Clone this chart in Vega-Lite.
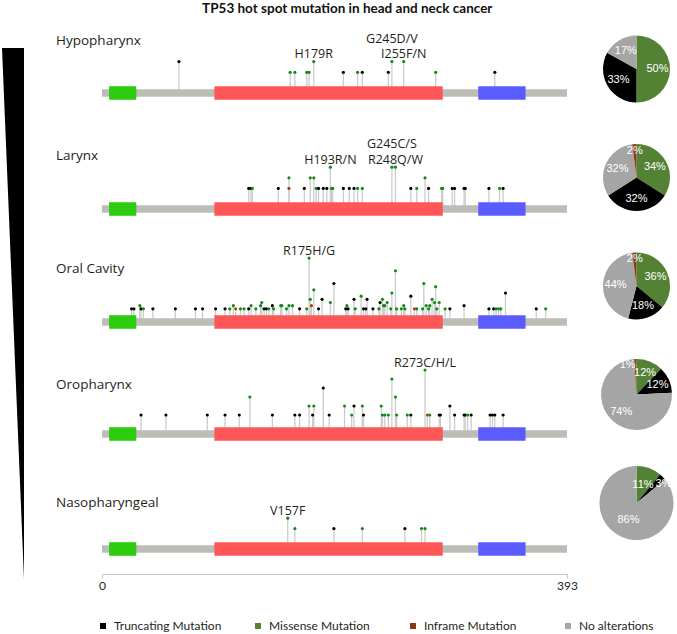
{
  "$schema": "https://vega.github.io/schema/vega-lite/v6.json",
  "padding": {"left": 2, "top": 1, "right": 1, "bottom": 4},
  "title": {"text": "TP53 hot spot mutation in head and neck cancer", "fontSize": 13.5, "font": "Lato", "fontWeight": "bold", "anchor": "middle", "dx": 9, "offset": 6, "color": "#111111"},
  "config": {"view": {"stroke": null}, "font": "Open Sans"},
  "datasets": {
    "prot": [{"name": "TP53", "start": 0, "end": 393}],
    "dom": [{"name": "TAD", "start": 6, "end": 29}, {"name": "DBD", "start": 95, "end": 288}, {"name": "TET", "start": 318, "end": 358}],
    "pie": [
      {"site": "Hypopharynx", "cat": "Missense Mutation", "share": 0.50, "k": 1},
      {"site": "Hypopharynx", "cat": "Truncating Mutation", "share": 0.33, "k": 2},
      {"site": "Hypopharynx", "cat": "No alterations", "share": 0.17, "k": 3},
      {"site": "Larynx", "cat": "Missense Mutation", "share": 0.34, "k": 1},
      {"site": "Larynx", "cat": "Truncating Mutation", "share": 0.32, "k": 2},
      {"site": "Larynx", "cat": "No alterations", "share": 0.32, "k": 3},
      {"site": "Larynx", "cat": "Inframe Mutation", "share": 0.02, "k": 4},
      {"site": "Oral Cavity", "cat": "Missense Mutation", "share": 0.36, "k": 1},
      {"site": "Oral Cavity", "cat": "Truncating Mutation", "share": 0.18, "k": 2},
      {"site": "Oral Cavity", "cat": "No alterations", "share": 0.44, "k": 3},
      {"site": "Oral Cavity", "cat": "Inframe Mutation", "share": 0.02, "k": 4},
      {"site": "Oropharynx", "cat": "Missense Mutation", "share": 0.12, "k": 1},
      {"site": "Oropharynx", "cat": "Truncating Mutation", "share": 0.12, "k": 2},
      {"site": "Oropharynx", "cat": "No alterations", "share": 0.74, "k": 3},
      {"site": "Oropharynx", "cat": "Inframe Mutation", "share": 0.01, "k": 4},
      {"site": "Nasopharyngeal", "cat": "Missense Mutation", "share": 0.11, "k": 1},
      {"site": "Nasopharyngeal", "cat": "Truncating Mutation", "share": 0.03, "k": 2},
      {"site": "Nasopharyngeal", "cat": "No alterations", "share": 0.86, "k": 3}
    ],
    "mut": [
      {"site": "Hypopharynx", "pos": 65, "n": 2, "type": "Truncating"},
      {"site": "Hypopharynx", "pos": 159, "n": 1, "type": "Missense"},
      {"site": "Hypopharynx", "pos": 163, "n": 1, "type": "Missense"},
      {"site": "Hypopharynx", "pos": 173, "n": 1, "type": "Missense"},
      {"site": "Hypopharynx", "pos": 175, "n": 1, "type": "Missense"},
      {"site": "Hypopharynx", "pos": 179, "n": 2, "type": "Missense", "hot": "H179R"},
      {"site": "Hypopharynx", "pos": 204, "n": 1, "type": "Truncating"},
      {"site": "Hypopharynx", "pos": 216, "n": 1, "type": "Missense"},
      {"site": "Hypopharynx", "pos": 220, "n": 1, "type": "Truncating"},
      {"site": "Hypopharynx", "pos": 242, "n": 1, "type": "Truncating"},
      {"site": "Hypopharynx", "pos": 245, "n": 2, "type": "Missense", "hotTop": "G245D/V"},
      {"site": "Hypopharynx", "pos": 255, "n": 2, "type": "Missense", "hot": "I255F/N"},
      {"site": "Hypopharynx", "pos": 282, "n": 1, "type": "Missense"},
      {"site": "Hypopharynx", "pos": 332, "n": 1, "type": "Truncating"},

      {"site": "Larynx", "pos": 124, "n": 1, "type": "Truncating"},
      {"site": "Larynx", "pos": 126, "n": 1, "type": "Truncating"},
      {"site": "Larynx", "pos": 127, "n": 1, "type": "Missense"},
      {"site": "Larynx", "pos": 149, "n": 1, "type": "Truncating"},
      {"site": "Larynx", "pos": 158, "n": 2, "type": "Missense"},
      {"site": "Larynx", "pos": 158, "n": 1, "type": "Inframe"},
      {"site": "Larynx", "pos": 171, "n": 1, "type": "Truncating"},
      {"site": "Larynx", "pos": 176, "n": 2, "type": "Missense"},
      {"site": "Larynx", "pos": 179, "n": 2, "type": "Missense"},
      {"site": "Larynx", "pos": 181, "n": 1, "type": "Missense"},
      {"site": "Larynx", "pos": 183, "n": 1, "type": "Truncating"},
      {"site": "Larynx", "pos": 187, "n": 1, "type": "Truncating"},
      {"site": "Larynx", "pos": 190, "n": 1, "type": "Truncating"},
      {"site": "Larynx", "pos": 193, "n": 3, "type": "Missense", "hot": "H193R/N"},
      {"site": "Larynx", "pos": 194, "n": 1, "type": "Missense"},
      {"site": "Larynx", "pos": 195, "n": 1, "type": "Missense"},
      {"site": "Larynx", "pos": 204, "n": 1, "type": "Truncating"},
      {"site": "Larynx", "pos": 209, "n": 1, "type": "Truncating"},
      {"site": "Larynx", "pos": 213, "n": 1, "type": "Truncating"},
      {"site": "Larynx", "pos": 216, "n": 1, "type": "Missense"},
      {"site": "Larynx", "pos": 220, "n": 1, "type": "Missense"},
      {"site": "Larynx", "pos": 245, "n": 3, "type": "Missense", "hotTop": "G245C/S"},
      {"site": "Larynx", "pos": 248, "n": 3, "type": "Missense", "hot": "R248Q/W"},
      {"site": "Larynx", "pos": 261, "n": 1, "type": "Truncating"},
      {"site": "Larynx", "pos": 266, "n": 1, "type": "Missense"},
      {"site": "Larynx", "pos": 273, "n": 2, "type": "Missense"},
      {"site": "Larynx", "pos": 276, "n": 1, "type": "Truncating"},
      {"site": "Larynx", "pos": 287, "n": 1, "type": "Missense"},
      {"site": "Larynx", "pos": 288, "n": 1, "type": "Missense"},
      {"site": "Larynx", "pos": 296, "n": 1, "type": "Truncating"},
      {"site": "Larynx", "pos": 298, "n": 1, "type": "Truncating"},
      {"site": "Larynx", "pos": 306, "n": 1, "type": "Truncating"},
      {"site": "Larynx", "pos": 307, "n": 1, "type": "Truncating"},
      {"site": "Larynx", "pos": 327, "n": 1, "type": "Truncating"},
      {"site": "Larynx", "pos": 336, "n": 1, "type": "Missense"},
      {"site": "Larynx", "pos": 339, "n": 1, "type": "Truncating"},

      {"site": "Oral Cavity", "pos": 25, "n": 1, "type": "Truncating"},
      {"site": "Oral Cavity", "pos": 27, "n": 1, "type": "Truncating"},
      {"site": "Oral Cavity", "pos": 32, "n": 2, "type": "Missense"},
      {"site": "Oral Cavity", "pos": 33, "n": 1, "type": "Truncating"},
      {"site": "Oral Cavity", "pos": 35, "n": 1, "type": "Missense"},
      {"site": "Oral Cavity", "pos": 43, "n": 1, "type": "Truncating"},
      {"site": "Oral Cavity", "pos": 62, "n": 1, "type": "Truncating"},
      {"site": "Oral Cavity", "pos": 79, "n": 1, "type": "Truncating"},
      {"site": "Oral Cavity", "pos": 85, "n": 1, "type": "Truncating"},
      {"site": "Oral Cavity", "pos": 96, "n": 1, "type": "Truncating"},
      {"site": "Oral Cavity", "pos": 104, "n": 1, "type": "Truncating"},
      {"site": "Oral Cavity", "pos": 108, "n": 1, "type": "Missense"},
      {"site": "Oral Cavity", "pos": 111, "n": 2, "type": "Missense"},
      {"site": "Oral Cavity", "pos": 113, "n": 1, "type": "Inframe"},
      {"site": "Oral Cavity", "pos": 117, "n": 1, "type": "Missense"},
      {"site": "Oral Cavity", "pos": 120, "n": 1, "type": "Missense"},
      {"site": "Oral Cavity", "pos": 124, "n": 1, "type": "Truncating"},
      {"site": "Oral Cavity", "pos": 126, "n": 2, "type": "Missense"},
      {"site": "Oral Cavity", "pos": 130, "n": 1, "type": "Missense"},
      {"site": "Oral Cavity", "pos": 134, "n": 2, "type": "Missense"},
      {"site": "Oral Cavity", "pos": 135, "n": 3, "type": "Missense"},
      {"site": "Oral Cavity", "pos": 137, "n": 1, "type": "Truncating"},
      {"site": "Oral Cavity", "pos": 139, "n": 1, "type": "Truncating"},
      {"site": "Oral Cavity", "pos": 141, "n": 1, "type": "Missense"},
      {"site": "Oral Cavity", "pos": 144, "n": 2, "type": "Truncating"},
      {"site": "Oral Cavity", "pos": 145, "n": 1, "type": "Missense"},
      {"site": "Oral Cavity", "pos": 151, "n": 2, "type": "Missense"},
      {"site": "Oral Cavity", "pos": 152, "n": 2, "type": "Missense"},
      {"site": "Oral Cavity", "pos": 156, "n": 1, "type": "Missense"},
      {"site": "Oral Cavity", "pos": 158, "n": 2, "type": "Missense"},
      {"site": "Oral Cavity", "pos": 161, "n": 2, "type": "Missense"},
      {"site": "Oral Cavity", "pos": 167, "n": 1, "type": "Truncating"},
      {"site": "Oral Cavity", "pos": 173, "n": 1, "type": "Missense"},
      {"site": "Oral Cavity", "pos": 175, "n": 17, "type": "Missense", "hot": "R175H/G"},
      {"site": "Oral Cavity", "pos": 176, "n": 4, "type": "Missense"},
      {"site": "Oral Cavity", "pos": 177, "n": 2, "type": "Inframe"},
      {"site": "Oral Cavity", "pos": 179, "n": 7, "type": "Missense"},
      {"site": "Oral Cavity", "pos": 183, "n": 1, "type": "Truncating"},
      {"site": "Oral Cavity", "pos": 186, "n": 4, "type": "Truncating"},
      {"site": "Oral Cavity", "pos": 193, "n": 3, "type": "Missense"},
      {"site": "Oral Cavity", "pos": 196, "n": 9, "type": "Truncating"},
      {"site": "Oral Cavity", "pos": 206, "n": 1, "type": "Truncating"},
      {"site": "Oral Cavity", "pos": 207, "n": 2, "type": "Missense"},
      {"site": "Oral Cavity", "pos": 208, "n": 1, "type": "Truncating"},
      {"site": "Oral Cavity", "pos": 213, "n": 4, "type": "Truncating"},
      {"site": "Oral Cavity", "pos": 214, "n": 1, "type": "Missense"},
      {"site": "Oral Cavity", "pos": 219, "n": 5, "type": "Missense"},
      {"site": "Oral Cavity", "pos": 221, "n": 1, "type": "Truncating"},
      {"site": "Oral Cavity", "pos": 223, "n": 1, "type": "Truncating"},
      {"site": "Oral Cavity", "pos": 224, "n": 4, "type": "Truncating"},
      {"site": "Oral Cavity", "pos": 229, "n": 1, "type": "Truncating"},
      {"site": "Oral Cavity", "pos": 234, "n": 1, "type": "Missense"},
      {"site": "Oral Cavity", "pos": 235, "n": 3, "type": "Truncating"},
      {"site": "Oral Cavity", "pos": 237, "n": 4, "type": "Missense"},
      {"site": "Oral Cavity", "pos": 238, "n": 2, "type": "Missense"},
      {"site": "Oral Cavity", "pos": 239, "n": 2, "type": "Missense"},
      {"site": "Oral Cavity", "pos": 241, "n": 3, "type": "Missense"},
      {"site": "Oral Cavity", "pos": 244, "n": 1, "type": "Missense"},
      {"site": "Oral Cavity", "pos": 245, "n": 6, "type": "Missense"},
      {"site": "Oral Cavity", "pos": 248, "n": 13, "type": "Missense"},
      {"site": "Oral Cavity", "pos": 249, "n": 1, "type": "Missense"},
      {"site": "Oral Cavity", "pos": 253, "n": 1, "type": "Missense"},
      {"site": "Oral Cavity", "pos": 255, "n": 2, "type": "Missense"},
      {"site": "Oral Cavity", "pos": 256, "n": 1, "type": "Missense"},
      {"site": "Oral Cavity", "pos": 261, "n": 5, "type": "Truncating"},
      {"site": "Oral Cavity", "pos": 264, "n": 1, "type": "Inframe"},
      {"site": "Oral Cavity", "pos": 266, "n": 1, "type": "Missense"},
      {"site": "Oral Cavity", "pos": 271, "n": 1, "type": "Missense"},
      {"site": "Oral Cavity", "pos": 272, "n": 9, "type": "Missense"},
      {"site": "Oral Cavity", "pos": 274, "n": 2, "type": "Missense"},
      {"site": "Oral Cavity", "pos": 276, "n": 1, "type": "Missense"},
      {"site": "Oral Cavity", "pos": 277, "n": 2, "type": "Missense"},
      {"site": "Oral Cavity", "pos": 279, "n": 4, "type": "Missense"},
      {"site": "Oral Cavity", "pos": 281, "n": 3, "type": "Missense"},
      {"site": "Oral Cavity", "pos": 282, "n": 8, "type": "Missense"},
      {"site": "Oral Cavity", "pos": 283, "n": 1, "type": "Missense"},
      {"site": "Oral Cavity", "pos": 285, "n": 3, "type": "Missense"},
      {"site": "Oral Cavity", "pos": 290, "n": 1, "type": "Missense"},
      {"site": "Oral Cavity", "pos": 294, "n": 1, "type": "Truncating"},
      {"site": "Oral Cavity", "pos": 306, "n": 2, "type": "Truncating"},
      {"site": "Oral Cavity", "pos": 327, "n": 1, "type": "Truncating"},
      {"site": "Oral Cavity", "pos": 331, "n": 1, "type": "Truncating"},
      {"site": "Oral Cavity", "pos": 333, "n": 1, "type": "Missense"},
      {"site": "Oral Cavity", "pos": 335, "n": 1, "type": "Missense"},
      {"site": "Oral Cavity", "pos": 337, "n": 1, "type": "Missense"},
      {"site": "Oral Cavity", "pos": 341, "n": 6, "type": "Truncating"},
      {"site": "Oral Cavity", "pos": 367, "n": 1, "type": "Truncating"},
      {"site": "Oral Cavity", "pos": 375, "n": 1, "type": "Missense"},

      {"site": "Oropharynx", "pos": 33, "n": 1, "type": "Truncating"},
      {"site": "Oropharynx", "pos": 54, "n": 1, "type": "Truncating"},
      {"site": "Oropharynx", "pos": 89, "n": 1, "type": "Truncating"},
      {"site": "Oropharynx", "pos": 104, "n": 1, "type": "Truncating"},
      {"site": "Oropharynx", "pos": 116, "n": 1, "type": "Truncating"},
      {"site": "Oropharynx", "pos": 125, "n": 3, "type": "Missense"},
      {"site": "Oropharynx", "pos": 144, "n": 1, "type": "Truncating"},
      {"site": "Oropharynx", "pos": 163, "n": 1, "type": "Truncating"},
      {"site": "Oropharynx", "pos": 167, "n": 1, "type": "Truncating"},
      {"site": "Oropharynx", "pos": 175, "n": 2, "type": "Missense"},
      {"site": "Oropharynx", "pos": 178, "n": 1, "type": "Truncating"},
      {"site": "Oropharynx", "pos": 179, "n": 2, "type": "Missense"},
      {"site": "Oropharynx", "pos": 187, "n": 4, "type": "Truncating"},
      {"site": "Oropharynx", "pos": 192, "n": 1, "type": "Truncating"},
      {"site": "Oropharynx", "pos": 205, "n": 2, "type": "Missense"},
      {"site": "Oropharynx", "pos": 211, "n": 1, "type": "Missense"},
      {"site": "Oropharynx", "pos": 213, "n": 2, "type": "Truncating"},
      {"site": "Oropharynx", "pos": 220, "n": 2, "type": "Missense"},
      {"site": "Oropharynx", "pos": 221, "n": 1, "type": "Truncating"},
      {"site": "Oropharynx", "pos": 236, "n": 2, "type": "Missense"},
      {"site": "Oropharynx", "pos": 237, "n": 1, "type": "Missense"},
      {"site": "Oropharynx", "pos": 239, "n": 1, "type": "Missense"},
      {"site": "Oropharynx", "pos": 242, "n": 1, "type": "Missense"},
      {"site": "Oropharynx", "pos": 245, "n": 5, "type": "Missense"},
      {"site": "Oropharynx", "pos": 248, "n": 3, "type": "Missense"},
      {"site": "Oropharynx", "pos": 249, "n": 1, "type": "Missense"},
      {"site": "Oropharynx", "pos": 258, "n": 1, "type": "Missense"},
      {"site": "Oropharynx", "pos": 261, "n": 1, "type": "Truncating"},
      {"site": "Oropharynx", "pos": 273, "n": 6, "type": "Missense", "hot": "R273C/H/L"},
      {"site": "Oropharynx", "pos": 275, "n": 1, "type": "Inframe"},
      {"site": "Oropharynx", "pos": 277, "n": 1, "type": "Missense"},
      {"site": "Oropharynx", "pos": 285, "n": 1, "type": "Truncating"},
      {"site": "Oropharynx", "pos": 286, "n": 1, "type": "Truncating"},
      {"site": "Oropharynx", "pos": 294, "n": 2, "type": "Truncating"},
      {"site": "Oropharynx", "pos": 298, "n": 1, "type": "Truncating"},
      {"site": "Oropharynx", "pos": 306, "n": 1, "type": "Truncating"},
      {"site": "Oropharynx", "pos": 307, "n": 1, "type": "Truncating"},
      {"site": "Oropharynx", "pos": 309, "n": 1, "type": "Missense"},
      {"site": "Oropharynx", "pos": 312, "n": 1, "type": "Truncating"},
      {"site": "Oropharynx", "pos": 328, "n": 1, "type": "Truncating"},
      {"site": "Oropharynx", "pos": 330, "n": 1, "type": "Truncating"},
      {"site": "Oropharynx", "pos": 332, "n": 1, "type": "Truncating"},
      {"site": "Oropharynx", "pos": 339, "n": 1, "type": "Truncating"},

      {"site": "Nasopharyngeal", "pos": 157, "n": 2, "type": "Missense", "hot": "V157F"},
      {"site": "Nasopharyngeal", "pos": 163, "n": 1, "type": "Missense"},
      {"site": "Nasopharyngeal", "pos": 196, "n": 1, "type": "Truncating"},
      {"site": "Nasopharyngeal", "pos": 220, "n": 1, "type": "Missense"},
      {"site": "Nasopharyngeal", "pos": 256, "n": 1, "type": "Truncating"},
      {"site": "Nasopharyngeal", "pos": 270, "n": 1, "type": "Missense"},
      {"site": "Nasopharyngeal", "pos": 273, "n": 1, "type": "Missense"}
    ]
  },
  "spacing": 32,
  "hconcat": [
    {
      "width": 22,
      "height": 558,
      "data": {"values": [{"t": 0, "w": 1}, {"t": 1, "w": 0}]},
      "mark": {"type": "area", "orient": "horizontal", "color": "#000000"},
      "encoding": {
        "y": {"field": "t", "type": "quantitative", "scale": {"domain": [-0.05085, 1], "reverse": true, "nice": false, "zero": false}, "axis": null},
        "x": {"field": "w", "type": "quantitative", "stack": null, "scale": {"domain": [0, 1], "reverse": true, "nice": false}, "axis": null},
        "x2": {"datum": 0}
      }
    },
    {
      "spacing": 20.5,
      "hconcat": [
        {
          "spacing": 6,
          "bounds": "flush",
          "vconcat": [
            {
              "width": 465, "height": 80,
              "title": {"text": "Hypopharynx", "anchor": "start", "frame": "group", "dx": -46, "offset": -37, "baseline": "alphabetic", "fontSize": 13.5, "font": "Open Sans", "fontWeight": "normal", "color": "#231f20"},
              "layer": [
                {"data": {"name": "mut"}, "transform": [{"filter": "datum.site === 'Hypopharynx'"}],
                 "mark": {"type": "rule", "color": "#cccccc", "strokeWidth": 1.3},
                 "encoding": {"x": {"field": "pos", "type": "quantitative", "scale": {"domain": [0, 393], "nice": false, "zero": false}, "axis": null},
                              "y": {"field": "n", "type": "quantitative", "scale": {"domain": [-1.6822, 5.7944], "nice": false, "zero": false}, "axis": null},
                              "y2": {"datum": -0.9346}}},
                {"data": {"name": "prot"}, "mark": {"type": "rule", "color": "#bdbdb8", "strokeWidth": 7.7, "strokeCap": "butt"},
                 "encoding": {"x": {"field": "start", "type": "quantitative", "scale": {"domain": [0, 393], "nice": false, "zero": false}, "axis": null}, "x2": {"field": "end"}, "y": {"datum": -0.9346}}},
                {"data": {"name": "dom"}, "mark": {"type": "rule", "strokeWidth": 13.6, "strokeCap": "butt"},
                 "encoding": {"x": {"field": "start", "type": "quantitative", "scale": {"domain": [0, 393], "nice": false, "zero": false}, "axis": null}, "x2": {"field": "end"}, "y": {"datum": -0.9346},
                              "stroke": {"field": "name", "type": "nominal", "scale": {"domain": ["TAD", "DBD", "TET"], "range": ["#2ecc0e", "#ff5657", "#5b5cff"]}, "legend": null}}},
                {"data": {"name": "mut"}, "transform": [{"filter": "datum.site === 'Hypopharynx'"}],
                 "mark": {"type": "circle", "size": 10, "opacity": 1},
                 "encoding": {"x": {"field": "pos", "type": "quantitative", "scale": {"domain": [0, 393], "nice": false, "zero": false}, "axis": null},
                              "y": {"field": "n", "type": "quantitative"},
                              "fill": {"field": "type", "type": "nominal", "scale": {"domain": ["Truncating", "Missense", "Inframe"], "range": ["#000000", "#138a13", "#b04012"]}, "legend": null}}},
                {"data": {"name": "mut"}, "transform": [{"filter": "datum.site === 'Hypopharynx' && datum.hot != null"}],
                 "mark": {"type": "text", "dy": -3.5, "baseline": "alphabetic", "fontSize": 12.5, "font": "Open Sans", "color": "#231f20"},
                 "encoding": {"x": {"field": "pos", "type": "quantitative"}, "y": {"field": "n", "type": "quantitative"}, "text": {"field": "hot"}}},
                {"data": {"name": "mut"}, "transform": [{"filter": "datum.site === 'Hypopharynx' && datum.hotTop != null"}],
                 "mark": {"type": "text", "dy": -18.5, "baseline": "alphabetic", "fontSize": 12.5, "font": "Open Sans", "color": "#231f20"},
                 "encoding": {"x": {"field": "pos", "type": "quantitative"}, "y": {"field": "n", "type": "quantitative"}, "text": {"field": "hotTop"}}}
              ]
            },
            {
              "width": 465, "height": 110,
              "title": {"text": "Larynx", "anchor": "start", "frame": "group", "dx": -46, "offset": -66, "baseline": "alphabetic", "fontSize": 13.5, "font": "Open Sans", "fontWeight": "normal", "color": "#231f20"},
              "layer": [
                {"data": {"name": "mut"}, "transform": [{"filter": "datum.site === 'Larynx'"}],
                 "mark": {"type": "rule", "color": "#cccccc", "strokeWidth": 1.3},
                 "encoding": {"x": {"field": "pos", "type": "quantitative", "scale": {"domain": [0, 393], "nice": false, "zero": false}, "axis": null},
                              "y": {"field": "n", "type": "quantitative", "scale": {"domain": [-1.6981, 8.6793], "nice": false, "zero": false}, "axis": null},
                              "y2": {"datum": -0.9434}}},
                {"data": {"name": "prot"}, "mark": {"type": "rule", "color": "#bdbdb8", "strokeWidth": 7.7, "strokeCap": "butt"},
                 "encoding": {"x": {"field": "start", "type": "quantitative", "scale": {"domain": [0, 393], "nice": false, "zero": false}, "axis": null}, "x2": {"field": "end"}, "y": {"datum": -0.9434}}},
                {"data": {"name": "dom"}, "mark": {"type": "rule", "strokeWidth": 13.6, "strokeCap": "butt"},
                 "encoding": {"x": {"field": "start", "type": "quantitative", "scale": {"domain": [0, 393], "nice": false, "zero": false}, "axis": null}, "x2": {"field": "end"}, "y": {"datum": -0.9434},
                              "stroke": {"field": "name", "type": "nominal", "scale": {"domain": ["TAD", "DBD", "TET"], "range": ["#2ecc0e", "#ff5657", "#5b5cff"]}, "legend": null}}},
                {"data": {"name": "mut"}, "transform": [{"filter": "datum.site === 'Larynx'"}],
                 "mark": {"type": "circle", "size": 10, "opacity": 1},
                 "encoding": {"x": {"field": "pos", "type": "quantitative", "scale": {"domain": [0, 393], "nice": false, "zero": false}, "axis": null},
                              "y": {"field": "n", "type": "quantitative"},
                              "fill": {"field": "type", "type": "nominal", "scale": {"domain": ["Truncating", "Missense", "Inframe"], "range": ["#000000", "#138a13", "#b04012"]}, "legend": null}}},
                {"data": {"name": "mut"}, "transform": [{"filter": "datum.site === 'Larynx' && datum.hot != null"}],
                 "mark": {"type": "text", "dy": -3.5, "baseline": "alphabetic", "fontSize": 12.5, "font": "Open Sans", "color": "#231f20"},
                 "encoding": {"x": {"field": "pos", "type": "quantitative"}, "y": {"field": "n", "type": "quantitative"}, "text": {"field": "hot"}}},
                {"data": {"name": "mut"}, "transform": [{"filter": "datum.site === 'Larynx' && datum.hotTop != null"}],
                 "mark": {"type": "text", "dy": -19.5, "baseline": "alphabetic", "fontSize": 12.5, "font": "Open Sans", "color": "#231f20"},
                 "encoding": {"x": {"field": "pos", "type": "quantitative"}, "y": {"field": "n", "type": "quantitative"}, "text": {"field": "hotTop"}}}
              ]
            },
            {
              "width": 465, "height": 107,
              "title": {"text": "Oral Cavity", "anchor": "start", "frame": "group", "dx": -46, "offset": -63, "baseline": "alphabetic", "fontSize": 13.5, "font": "Open Sans", "fontWeight": "normal", "color": "#231f20"},
              "layer": [
                {"data": {"name": "mut"}, "transform": [{"filter": "datum.site === 'Oral Cavity'"}],
                 "mark": {"type": "rule", "color": "#cccccc", "strokeWidth": 1.3},
                 "encoding": {"x": {"field": "pos", "type": "quantitative", "scale": {"domain": [0, 393], "nice": false, "zero": false}, "axis": null},
                              "y": {"field": "n", "type": "quantitative", "scale": {"domain": [-5.6782, 28.0757], "nice": false, "zero": false}, "axis": null},
                              "y2": {"datum": -3.1546}}},
                {"data": {"name": "prot"}, "mark": {"type": "rule", "color": "#bdbdb8", "strokeWidth": 7.7, "strokeCap": "butt"},
                 "encoding": {"x": {"field": "start", "type": "quantitative", "scale": {"domain": [0, 393], "nice": false, "zero": false}, "axis": null}, "x2": {"field": "end"}, "y": {"datum": -3.1546}}},
                {"data": {"name": "dom"}, "mark": {"type": "rule", "strokeWidth": 13.6, "strokeCap": "butt"},
                 "encoding": {"x": {"field": "start", "type": "quantitative", "scale": {"domain": [0, 393], "nice": false, "zero": false}, "axis": null}, "x2": {"field": "end"}, "y": {"datum": -3.1546},
                              "stroke": {"field": "name", "type": "nominal", "scale": {"domain": ["TAD", "DBD", "TET"], "range": ["#2ecc0e", "#ff5657", "#5b5cff"]}, "legend": null}}},
                {"data": {"name": "mut"}, "transform": [{"filter": "datum.site === 'Oral Cavity'"}],
                 "mark": {"type": "circle", "size": 10, "opacity": 1},
                 "encoding": {"x": {"field": "pos", "type": "quantitative", "scale": {"domain": [0, 393], "nice": false, "zero": false}, "axis": null},
                              "y": {"field": "n", "type": "quantitative"},
                              "fill": {"field": "type", "type": "nominal", "scale": {"domain": ["Truncating", "Missense", "Inframe"], "range": ["#000000", "#138a13", "#b04012"]}, "legend": null}}},
                {"data": {"name": "mut"}, "transform": [{"filter": "datum.site === 'Oral Cavity' && datum.hot != null"}],
                 "mark": {"type": "text", "dy": -3.5, "baseline": "alphabetic", "fontSize": 12.5, "font": "Open Sans", "color": "#231f20"},
                 "encoding": {"x": {"field": "pos", "type": "quantitative"}, "y": {"field": "n", "type": "quantitative"}, "text": {"field": "hot"}}}
              ]
            },
            {
              "width": 465, "height": 106,
              "title": {"text": "Oropharynx", "anchor": "start", "frame": "group", "dx": -46, "offset": -66, "baseline": "alphabetic", "fontSize": 13.5, "font": "Open Sans", "fontWeight": "normal", "color": "#231f20"},
              "layer": [
                {"data": {"name": "mut"}, "transform": [{"filter": "datum.site === 'Oropharynx'"}],
                 "mark": {"type": "rule", "color": "#cccccc", "strokeWidth": 1.3},
                 "encoding": {"x": {"field": "pos", "type": "quantitative", "scale": {"domain": [0, 393], "nice": false, "zero": false}, "axis": null},
                              "y": {"field": "n", "type": "quantitative", "scale": {"domain": [-2.0, 9.7778], "nice": false, "zero": false}, "axis": null},
                              "y2": {"datum": -1.1111}}},
                {"data": {"name": "prot"}, "mark": {"type": "rule", "color": "#bdbdb8", "strokeWidth": 7.7, "strokeCap": "butt"},
                 "encoding": {"x": {"field": "start", "type": "quantitative", "scale": {"domain": [0, 393], "nice": false, "zero": false}, "axis": null}, "x2": {"field": "end"}, "y": {"datum": -1.1111}}},
                {"data": {"name": "dom"}, "mark": {"type": "rule", "strokeWidth": 13.6, "strokeCap": "butt"},
                 "encoding": {"x": {"field": "start", "type": "quantitative", "scale": {"domain": [0, 393], "nice": false, "zero": false}, "axis": null}, "x2": {"field": "end"}, "y": {"datum": -1.1111},
                              "stroke": {"field": "name", "type": "nominal", "scale": {"domain": ["TAD", "DBD", "TET"], "range": ["#2ecc0e", "#ff5657", "#5b5cff"]}, "legend": null}}},
                {"data": {"name": "mut"}, "transform": [{"filter": "datum.site === 'Oropharynx'"}],
                 "mark": {"type": "circle", "size": 10, "opacity": 1},
                 "encoding": {"x": {"field": "pos", "type": "quantitative", "scale": {"domain": [0, 393], "nice": false, "zero": false}, "axis": null},
                              "y": {"field": "n", "type": "quantitative"},
                              "fill": {"field": "type", "type": "nominal", "scale": {"domain": ["Truncating", "Missense", "Inframe"], "range": ["#000000", "#138a13", "#b04012"]}, "legend": null}}},
                {"data": {"name": "mut"}, "transform": [{"filter": "datum.site === 'Oropharynx' && datum.hot != null"}],
                 "mark": {"type": "text", "dy": -3.5, "baseline": "alphabetic", "fontSize": 12.5, "font": "Open Sans", "color": "#231f20"},
                 "encoding": {"x": {"field": "pos", "type": "quantitative"}, "y": {"field": "n", "type": "quantitative"}, "text": {"field": "hot"}}}
              ]
            },
            {
              "width": 465, "height": 109,
              "title": {"text": "Nasopharyngeal", "anchor": "start", "frame": "group", "dx": -46, "offset": -72, "baseline": "alphabetic", "fontSize": 13.5, "font": "Open Sans", "fontWeight": "normal", "color": "#231f20"},
              "layer": [
                {"data": {"name": "mut"}, "transform": [{"filter": "datum.site === 'Nasopharyngeal'"}],
                 "mark": {"type": "rule", "color": "#cccccc", "strokeWidth": 1.3},
                 "encoding": {"x": {"field": "pos", "type": "quantitative", "scale": {"domain": [0, 393], "nice": false, "zero": false},
                                    "axis": {"values": [0, 393], "title": null, "offset": 17, "domainColor": "#c6c6d8", "tickColor": "#c6c6d8", "tickSize": 4, "labelFont": "Lato", "labelFontSize": 12, "labelColor": "#231f20", "labelPadding": 2, "grid": false, "labelFlush": false}},
                              "y": {"field": "n", "type": "quantitative", "scale": {"domain": [-1.7308, 8.75], "nice": false, "zero": false}, "axis": null},
                              "y2": {"datum": -0.9615}}},
                {"data": {"name": "prot"}, "mark": {"type": "rule", "color": "#bdbdb8", "strokeWidth": 7.7, "strokeCap": "butt"},
                 "encoding": {"x": {"field": "start", "type": "quantitative"}, "x2": {"field": "end"}, "y": {"datum": -0.9615}}},
                {"data": {"name": "dom"}, "mark": {"type": "rule", "strokeWidth": 13.6, "strokeCap": "butt"},
                 "encoding": {"x": {"field": "start", "type": "quantitative"}, "x2": {"field": "end"}, "y": {"datum": -0.9615},
                              "stroke": {"field": "name", "type": "nominal", "scale": {"domain": ["TAD", "DBD", "TET"], "range": ["#2ecc0e", "#ff5657", "#5b5cff"]}, "legend": null}}},
                {"data": {"name": "mut"}, "transform": [{"filter": "datum.site === 'Nasopharyngeal'"}],
                 "mark": {"type": "circle", "size": 10, "opacity": 1},
                 "encoding": {"x": {"field": "pos", "type": "quantitative"},
                              "y": {"field": "n", "type": "quantitative"},
                              "fill": {"field": "type", "type": "nominal", "scale": {"domain": ["Truncating", "Missense", "Inframe"], "range": ["#000000", "#138a13", "#b04012"]}, "legend": null}}},
                {"data": {"name": "mut"}, "transform": [{"filter": "datum.site === 'Nasopharyngeal' && datum.hot != null"}],
                 "mark": {"type": "text", "dy": -3.5, "baseline": "alphabetic", "fontSize": 12.5, "font": "Open Sans", "color": "#231f20"},
                 "encoding": {"x": {"field": "pos", "type": "quantitative"}, "y": {"field": "n", "type": "quantitative"}, "text": {"field": "hot"}}}
              ]
            }
          ]
        },
        {
          "spacing": 12.5,
          "bounds": "flush",
          "vconcat": [
            {
              "width": 76, "height": 96,
              "data": {"name": "pie"},
              "transform": [{"filter": "datum.site === 'Hypopharynx'"}],
              "layer": [
                {"mark": {"type": "arc", "radius": 33.5},
                 "encoding": {"theta": {"field": "share", "type": "quantitative", "stack": true}, "order": {"field": "k", "type": "quantitative"},
                              "color": {"field": "cat", "type": "nominal", "scale": {"domain": ["Truncating Mutation", "Missense Mutation", "Inframe Mutation", "No alterations"], "range": ["#000000", "#548235", "#843c0c", "#a5a5a5"]},
                                        "legend": {"title": null, "orient": "none", "legendX": 95, "legendY": 599, "direction": "horizontal", "columns": 4, "gridAlign": "all", "columnPadding": 30, "symbolType": "square", "symbolSize": 36, "symbolStrokeWidth": 0, "labelFont": "Lato", "labelFontSize": 12, "labelColor": "#231f20", "labelOffset": 5}}}},
                {"mark": {"type": "text", "radius": {"expr": "datum.share < 0.05 ? 29 : 21"}, "fill": "#ffffff", "fontSize": 11, "font": "Liberation Sans"},
                 "encoding": {"theta": {"field": "share", "type": "quantitative", "stack": true}, "order": {"field": "k", "type": "quantitative"}, "detail": {"field": "cat"},
                              "text": {"field": "share", "type": "quantitative", "format": ".0%"}}}
              ]
            },
            {
              "width": 76, "height": 96,
              "data": {"name": "pie"},
              "transform": [{"filter": "datum.site === 'Larynx'"}],
              "layer": [
                {"mark": {"type": "arc", "radius": 33.5},
                 "encoding": {"theta": {"field": "share", "type": "quantitative", "stack": true}, "order": {"field": "k", "type": "quantitative"},
                              "color": {"field": "cat", "type": "nominal", "scale": {"domain": ["Truncating Mutation", "Missense Mutation", "Inframe Mutation", "No alterations"], "range": ["#000000", "#548235", "#843c0c", "#a5a5a5"]},
                                        "legend": {"title": null, "orient": "none", "legendX": 95, "legendY": 599, "direction": "horizontal", "columns": 4, "gridAlign": "all", "columnPadding": 30, "symbolType": "square", "symbolSize": 36, "symbolStrokeWidth": 0, "labelFont": "Lato", "labelFontSize": 12, "labelColor": "#231f20", "labelOffset": 5}}}},
                {"mark": {"type": "text", "radius": {"expr": "datum.share < 0.05 ? 27 : 21"}, "fill": "#ffffff", "fontSize": 11, "font": "Liberation Sans"},
                 "encoding": {"theta": {"field": "share", "type": "quantitative", "stack": true}, "order": {"field": "k", "type": "quantitative"}, "detail": {"field": "cat"},
                              "text": {"field": "share", "type": "quantitative", "format": ".0%"}}}
              ]
            },
            {
              "width": 76, "height": 96,
              "data": {"name": "pie"},
              "transform": [{"filter": "datum.site === 'Oral Cavity'"}],
              "layer": [
                {"mark": {"type": "arc", "radius": 33.5},
                 "encoding": {"theta": {"field": "share", "type": "quantitative", "stack": true}, "order": {"field": "k", "type": "quantitative"},
                              "color": {"field": "cat", "type": "nominal", "scale": {"domain": ["Truncating Mutation", "Missense Mutation", "Inframe Mutation", "No alterations"], "range": ["#000000", "#548235", "#843c0c", "#a5a5a5"]},
                                        "legend": {"title": null, "orient": "none", "legendX": 95, "legendY": 599, "direction": "horizontal", "columns": 4, "gridAlign": "all", "columnPadding": 30, "symbolType": "square", "symbolSize": 36, "symbolStrokeWidth": 0, "labelFont": "Lato", "labelFontSize": 12, "labelColor": "#231f20", "labelOffset": 5}}}},
                {"mark": {"type": "text", "radius": {"expr": "datum.share < 0.05 ? 27 : 21"}, "fill": "#ffffff", "fontSize": 11, "font": "Liberation Sans"},
                 "encoding": {"theta": {"field": "share", "type": "quantitative", "stack": true}, "order": {"field": "k", "type": "quantitative"}, "detail": {"field": "cat"},
                              "text": {"field": "share", "type": "quantitative", "format": ".0%"}}}
              ]
            },
            {
              "width": 76, "height": 96,
              "data": {"name": "pie"},
              "transform": [{"filter": "datum.site === 'Oropharynx'"}],
              "layer": [
                {"mark": {"type": "arc", "radius": 35.5},
                 "encoding": {"theta": {"field": "share", "type": "quantitative", "stack": true}, "order": {"field": "k", "type": "quantitative"},
                              "color": {"field": "cat", "type": "nominal", "scale": {"domain": ["Truncating Mutation", "Missense Mutation", "Inframe Mutation", "No alterations"], "range": ["#000000", "#548235", "#843c0c", "#a5a5a5"]},
                                        "legend": {"title": null, "orient": "none", "legendX": 95, "legendY": 599, "direction": "horizontal", "columns": 4, "gridAlign": "all", "columnPadding": 30, "symbolType": "square", "symbolSize": 36, "symbolStrokeWidth": 0, "labelFont": "Lato", "labelFontSize": 12, "labelColor": "#231f20", "labelOffset": 5}}}},
                {"mark": {"type": "text", "radius": {"expr": "datum.share < 0.05 ? 30 : 23"}, "align": {"expr": "datum.share < 0.05 ? 'right' : 'center'"}, "fill": "#ffffff", "fontSize": 11, "font": "Liberation Sans"},
                 "encoding": {"theta": {"field": "share", "type": "quantitative", "stack": true}, "order": {"field": "k", "type": "quantitative"}, "detail": {"field": "cat"},
                              "text": {"field": "share", "type": "quantitative", "format": ".0%"}}}
              ]
            },
            {
              "width": 76, "height": 96,
              "data": {"name": "pie"},
              "transform": [{"filter": "datum.site === 'Nasopharyngeal'"}],
              "layer": [
                {"mark": {"type": "arc", "radius": 37},
                 "encoding": {"theta": {"field": "share", "type": "quantitative", "stack": true}, "order": {"field": "k", "type": "quantitative"},
                              "color": {"field": "cat", "type": "nominal", "scale": {"domain": ["Truncating Mutation", "Missense Mutation", "Inframe Mutation", "No alterations"], "range": ["#000000", "#548235", "#843c0c", "#a5a5a5"]},
                                        "legend": {"title": null, "orient": "none", "legendX": 95, "legendY": 599, "direction": "horizontal", "columns": 4, "gridAlign": "all", "columnPadding": 30, "symbolType": "square", "symbolSize": 36, "symbolStrokeWidth": 0, "labelFont": "Lato", "labelFontSize": 12, "labelColor": "#231f20", "labelOffset": 5}}}},
                {"mark": {"type": "text", "radius": {"expr": "datum.share < 0.05 ? 27 : 19"}, "align": {"expr": "datum.share < 0.05 ? 'left' : 'center'"}, "fill": "#ffffff", "fontSize": 11, "font": "Liberation Sans"},
                 "encoding": {"theta": {"field": "share", "type": "quantitative", "stack": true}, "order": {"field": "k", "type": "quantitative"}, "detail": {"field": "cat"},
                              "text": {"field": "share", "type": "quantitative", "format": ".0%"}}}
              ]
            }
          ]
        }
      ]
    }
  ]
}
